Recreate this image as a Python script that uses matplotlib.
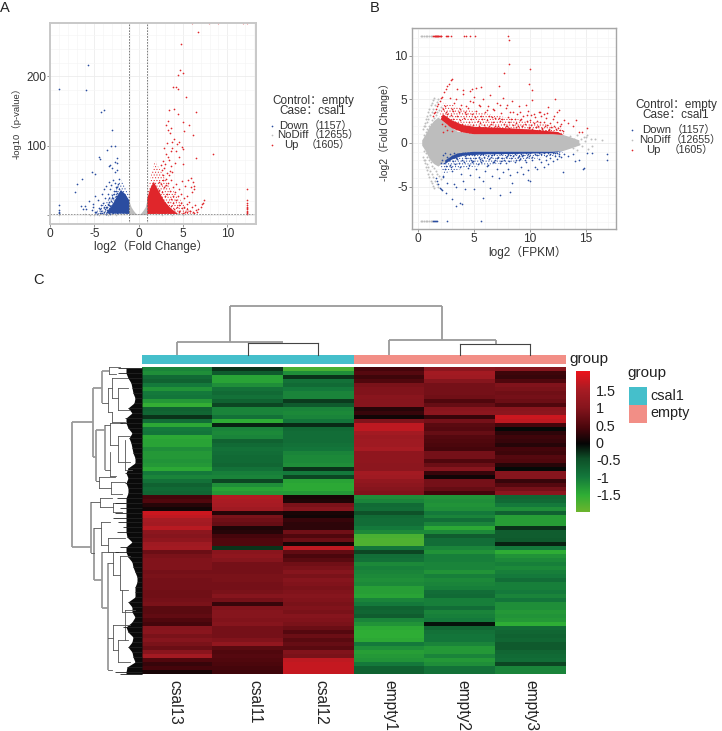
import matplotlib
matplotlib.use("Agg")
import matplotlib.pyplot as plt
import numpy as np
from matplotlib.colors import LinearSegmentedColormap

plt.rcParams['font.family'] = ['Liberation Sans', 'Noto Sans CJK SC', 'DejaVu Sans']
plt.rcParams['hatch.linewidth'] = 0.4

W, H = 722, 731

# ---- volcano (A) ----
a_down_x = [-5.68,-8.95,-5.98,-4.25,-3.95,-3.0,-3.16,-2.67,-3.53,-4.5,-4.36,-2.44,-2.63,-2.44,-3.2,-2.97,-3.4,-2.44,-2.67,-5.26,-4.96,-6.43,-7.0,-7.2,-8.95,-8.95,-8.95,-8.95,
            -6.5,-6.3,-6.1,-5.9,-5.6,-5.3,-5.1,-4.9,-4.8,-4.6,-4.5,-4.4,-4.3,-4.2,-4.1,-4,-3.9,-3.9,-3.8,-3.7,-3.7,-3.6,-3.5,-3.5,-3.4,-3.4,-3.3,-3.3,-3.2,-3.2,-3.1,-3.1,-3,-3,-2.9,-2.9,-2.8,-2.8,-2.7,-2.7,-2.6,-2.6,-2.5,-2.5,-2.4,-2.4,-2.3,-2.3,-2.3,-2.2,-2.2,-2.2,
            -4.7,-4.4,-4.1,-3.95,-3.8,-3.65,-3.55,-3.45,-3.35,-3.25,-3.15,-3.05,-2.95,-2.85,-2.75,-2.65,-2.55,-2.45,-2.35,-4.9,-5.2,-3.7,-3.3,-3.0,-2.8,-2.6,-2.4]
a_down_y = [217,182,180,148,151,122,100,99,94,84,81,82,77,75,72,68,70,65,61.5,62,59,52,44,33,15,5,3,7,
            13,9,13,9,20,7,16,28,5,22,10,3,14,6,30,18,38,4,25,11,42,7,31,16,47,3,24,9,37,13,20,43,5,29,16,50,10,35,22,46,7,28,15,40,4,32,19,44,11,37,26,52,
            2,8,3,12,8,2,11,5,15,2,8,11,3,24,7,15,10,3,8,4,11,2,19,24,30,34,41]
a_up_x = [6.73,4.77,4.66,5.0,4.4,3.83,4.17,4.47,5.34,3.95,3.46,6.47,4.44,3.35,4.96,5.7,3.7,5.1,6.1,8.42,6.43,5.98,7.97,8.98,11.73,12.25,
          3.1,3.3,3.55,3.8,4.0,4.3,4.6,4.9,5.05,3.6,3.2,2.9,3.1,3.45,3.75,4.25,4.6,2.75,3.0,3.3,3.7,4.05,2.6,2.9,3.2,3.55,2.5,2.75,3.05,3.4,3.8,5.05,5.55,
          2.3,2.55,2.8,3.05,3.3,3.6,3.9,4.2,4.5,4.85,5.2,5.95,6.1,6.25,2.35,2.6,2.85,3.15,3.5,3.85,4.15,4.45,4.8,5.1,5.4,5.85,6.05,6.2,7.1,7.35,
          2.4,2.7,3.0,3.3,3.6,3.9,4.2,4.5,4.8,5.1,5.4,5.7,6.0,6.3,6.7,7.0,7.25,2.5,2.8,3.1,3.4,3.7,4.0,4.3,4.6,4.9,5.2,5.5,5.8,6.1,6.5,2.6,3.0,3.4,3.8,4.2,4.6,5.0,5.4,5.8,6.2,6.6,
          12.25,12.25,12.25,12.25,12.25,12.25,12.25,12.25,12.25,12.25,12.25]
a_up_y = [264,247,209,205,202,185,184,182,170,153,151,148.5,146,136,134.6,130,125,121.6,115,88,82,277,277,277,277,277,
          130,122,118,105,110,102,105,98,95,92,104,96,88,80,96,92,84,78,73,83,70,75,65,68,60,64,72,58,52,57,62,74,50,
          48,45,50,43,46,50,40,44,38,49,42,53,48,38,36,33,40,30,35,28,33,27,31,24,28,40,33,42,16,22,
          25,22,27,19,23,17,21,15,18,12,16,19,11,14,9,12,18,14,12,15,9,13,8,11,6,10,5,8,6,4,7,5,8,4,6,3,5,2.5,4,6,3,5,
          37,22,18,15,12,10,8,6,5,3.5,2]
a_nd_x = [-9.0,-8.95,-6.0,-5.5,-5.0,-4.5,-4.0,-3.5,-3.0,-2.5,-2.0,-1.6,2.0,2.6,3.2,3.8,4.4,5.0]
a_nd_y = [1,0.6,0.8,0.5,0.7,0.4,0.9,0.6,1.0,0.7,1.1,0.8,1.0,0.6,0.9,0.5,0.8,0.6]
# outlines of the areas too dense to read point by point
a_gray_hx = [-1.06,-0.8,-0.55,-0.3,0,0.3,0.55,0.8,0.97,0.97,-1.06]
a_gray_hy = [20,11,6,2,0.2,2,6,11,20,0,0]
a_blue_hx = [-1.06,-1.06,-1.5,-2.0,-2.4,-3.0,-3.7,-1.06]
a_blue_hy = [1.5,21,30,36,28,14,2.5,1.5]
a_blue_ox = [-1.06,-1.9,-2.4,-2.9,-3.5,-4.3,-5.0,-1.06]
a_blue_oy = [30,50,45,32,22,12,1.5,1.5]
a_red_hx = [0.97,0.97,1.3,1.7,2.2,2.9,3.6,4.4,0.97]
a_red_hy = [1.5,24,38,48,36,20,10,1.5,1.5]
a_red_ox = [0.97,1.3,1.8,2.5,3.3,4.2,5.2,6.2,0.97]
a_red_oy = [30,52,78,64,44,30,14,1.5,1.5]

# ---- MA plot (B) ----
b_up_x = [8.06,8.15,4.3,8.15,10.0,7.64,9.88,10.2,7.25,5.6,3.5,4,4.6,5.2,4.8,
          1.3,1.4,1.5,1.6,1.7,1.8,1.9,2.0,2.1,2.3,2.5,2.6,2.7,2.9,3.0,
          1.3,1.4,1.45,1.5,1.55,1.6,1.65,1.7,1.75,1.8,1.85,1.9,2.0,2.05,2.45,2.55,2.65,2.9,4.1,4.65,5.1,
          2.2,2.4,2.6,2.8,3.0,3.2,3.4,3.6,3.8,4.0,4.2,4.4,4.6,4.8,5.0,5.2,5.4,5.6,5.8,6.0,6.2,6.4,6.6,6.8,7.0,7.2,7.4,7.6,7.8,8.0,8.2,8.4,8.6,8.8,9.0,9.2,9.4,9.6,9.8,10.0,10.2,10.4,10.6,10.8,11.0,11.2,11.4,11.6,11.8,12.0,12.2,12.4,12.6,12.8,13.0,13.4,13.8,14.1,14.4,14.6,15.1,
          2.3,2.5,2.7,2.9,3.1,3.3,3.5,3.7,3.9,4.1,4.3,4.5,4.7,4.9,5.1,5.3,5.5,5.7,5.9,6.1,6.3,6.5,6.7,6.9,7.1,7.3,7.5,7.7,7.9,8.1,8.3,8.5,8.7,8.9,9.1,9.3,9.5,9.7,9.9,10.1,10.3,10.5,10.7,10.9,11.1,11.3,11.5,11.7,11.9,12.1,12.3,12.5,12.7,12.9,10.1,11.2,12.4,12.7,
          2.1,2.4,2.7,3.0,3.3,3.6,3.9,4.2,4.5,4.8,5.1,5.4,5.7,6.0,6.3,6.6,6.9,7.2,7.5,7.8,8.1,8.4,8.7,9.0,9.3,9.6,9.9,10.2,10.5,10.8,11.1,11.4,11.7,12.0,
          2.2,2.6,3.0,3.4,3.8,4.2,4.6,5.0,5.4,5.8,6.2,6.6,7.0,7.4,7.8,8.2,8.6,9.0,9.4,9.8,10.2,10.6,11.0,11.4,11.8,
          2.5,3.1,3.7,4.3,4.9,5.5,6.1,6.7,7.3,7.9,8.5,9.1,9.7,10.3,10.9,11.5,12.1]
b_up_y = [12.2,11.75,12.2,9.0,8.5,8.05,6.75,6.07,6.5,6.45,6.2,6.1,6.0,6.3,6.2,
          3.1,3.4,3.6,3.9,4.2,4.5,4.8,5.1,5.3,5.8,6.2,6.5,6.8,7.2,7.3,
          12.2,12.2,12.2,12.2,12.2,12.2,12.2,12.2,12.2,12.2,12.2,12.2,12.2,12.2,12.2,12.2,12.2,12.2,12.2,12.2,12.2,
          3.9,4.2,3.3,5.2,3.9,4.6,5.0,3.5,4.4,5.6,3.6,4.0,4.8,3.3,5.3,3.7,4.4,3.1,5.0,3.5,4.2,5.5,3.0,3.8,4.6,2.9,3.4,5.2,4.0,3.0,3.6,4.8,2.8,3.3,4.2,2.7,3.1,4.4,3.7,2.6,4.9,3.0,2.5,3.5,3.1,2.4,2.9,4.1,2.3,2.7,5.0,2.4,3.8,2.2,2.6,2.3,2.0,2.6,1.2,1.2,1.7,
          2.7,3.0,2.5,3.2,2.8,2.4,3.1,2.6,2.2,2.9,3.3,2.4,2.7,2.1,3.0,2.5,2.3,2.8,2.1,2.6,3.1,2.2,2.4,2.9,2.0,2.5,2.7,2.2,1.9,2.4,2.8,2.1,2.3,1.9,2.6,2.0,2.2,2.5,1.8,2.1,2.3,1.8,2.0,2.4,1.7,1.9,2.1,1.6,1.8,2.0,1.6,1.7,1.5,1.4,3.2,3.3,3.6,1.9,
          2.2,2.0,2.1,1.9,1.8,2.1,1.9,1.7,2.0,1.8,1.6,1.9,1.7,1.8,2.0,1.6,1.9,1.7,1.6,1.9,1.7,1.5,1.8,1.6,1.9,1.5,1.7,1.6,1.8,1.5,1.6,1.4,1.5,1.3,
          1.3,1.5,1.4,1.6,1.4,1.5,1.3,1.4,1.6,1.3,1.5,1.4,1.3,1.5,1.4,1.3,1.5,1.4,1.3,1.5,1.3,1.4,1.3,1.4,1.2,
          3.6,3.7,3.9,4.2,4.7,4.2,3.8,3.9,4.4,4.3,3.5,3.6,3.2,3.3,3.6,3.4,3.1]
b_down_x = [1.3,1.4,1.5,1.6,1.7,2.6,5.6,
            1.6,1.7,1.8,1.9,2.0,2.1,2.2,
            2.0,2.2,2.4,2.6,2.8,3.0,3.2,3.4,3.6,3.8,4.0,4.2,4.4,4.6,4.8,5.0,5.2,5.4,5.6,5.8,6.0,6.2,6.4,6.6,6.8,7.0,7.2,7.4,7.6,7.8,8.0,8.2,8.4,8.6,8.8,9.0,9.2,9.4,9.6,9.8,10.0,10.2,10.4,10.6,10.8,11.0,11.2,11.4,11.6,11.8,12.0,12.2,12.4,12.6,12.8,13.0,13.4,13.8,14.0,14.4,14.7,15.1,15.5,16.9,16.9,
            2.1,2.3,2.5,2.7,2.9,3.1,3.3,3.5,3.7,3.9,4.1,4.3,4.5,4.7,4.9,5.1,5.3,5.5,5.7,5.9,6.1,6.3,6.5,6.7,6.9,7.1,7.3,7.5,7.7,7.9,8.1,8.3,8.5,8.7,8.9,9.1,9.3,9.5,9.7,9.9,
            2.2,2.6,3.0,3.4,3.8,4.2,4.6,5.0,5.4,5.8,6.2,6.6,7.0,7.4,7.8,8.2,8.6,9.0,9.4,9.8,10.2,10.6,11.0,11.4,11.8,12.2,12.6,
            2.4,2.8,3.2,3.6,4.0,4.4,4.8,5.2,5.6,6.0,6.4,6.8,7.2,7.6,8.0,8.4,8.8,9.2,9.6,10.0,10.4,10.8,11.2,11.6,12.0,12.4,
            3.7,3.95,3.4,3.0,2.5,5.8,7.3,8.2,9.8,12.95,14.8]
b_down_y = [-8.9,-8.9,-8.9,-8.9,-8.9,-8.9,-8.9,
            -4.0,-4.4,-4.7,-5.1,-5.3,-5.4,-3.9,
            -2.3,-3.8,-3.0,-4.6,-2.5,-3.2,-4.7,-5.0,-2.3,-3.6,-4.3,-5.3,-2.9,-3.7,-2.2,-5.3,-3.0,-3.9,-2.2,-4.4,-3.2,-2.5,-5.1,-3.8,-2.2,-3.0,-4.0,-2.1,-3.3,-2.3,-3.0,-3.7,-4.6,-2.2,-3.3,-2.0,-2.7,-3.6,-2.2,-3.1,-4.3,-2.0,-2.7,-3.0,-1.8,-2.2,-2.8,-1.9,-2.4,-1.7,-2.1,-1.5,-1.8,-1.5,-1.6,-1.3,-1.5,-1.3,-2.1,-2.0,-3.0,-1.2,-1.2,-1.3,-2.0,
            -2.0,-2.3,-2.6,-1.9,-2.8,-2.1,-2.4,-1.8,-2.7,-2.0,-2.2,-1.7,-2.5,-1.9,-2.1,-1.7,-2.4,-1.8,-2.0,-1.6,-2.6,-1.8,-1.6,-2.2,-1.9,-1.6,-2.3,-1.7,-1.9,-1.5,-2.1,-1.7,-1.5,-2.0,-1.6,-1.8,-1.5,-1.9,-1.6,-1.5,
            -1.4,-1.6,-1.5,-1.7,-1.4,-1.5,-1.7,-1.4,-1.6,-1.3,-1.5,-1.4,-1.7,-1.3,-1.6,-1.4,-1.3,-1.5,-1.4,-1.3,-1.6,-1.4,-1.3,-1.5,-1.3,-1.2,-1.3,
            -1.2,-1.3,-1.2,-1.3,-1.2,-1.3,-1.2,-1.2,-1.3,-1.2,-1.2,-1.3,-1.2,-1.2,-1.3,-1.2,-1.2,-1.3,-1.2,-1.2,-1.3,-1.2,-1.2,-1.2,-1.2,-1.1,
            -6.9,-7.0,-7.2,-6.4,-5.7,-6.3,-5.9,-5.6,-4.2,-3.3,-2.9]
b_nd_x = [0.2,0.35,0.5,0.65,0.8,0.95,1.1,1.25,0.2,0.35,0.5,0.65,0.8,0.95,1.1,1.25,
          0.45,0.6,0.75,0.9,1.05,1.2,1.35,1.5,1.65,1.8,0.5,0.65,0.8,0.95,1.1,1.25,1.4,1.55,1.7,1.85,2.0,
          0.45,0.6,0.75,0.9,1.05,1.2,1.35,1.5,1.65,1.8,0.5,0.65,0.8,0.95,1.1,1.25,1.4,1.55,1.7,1.85,2.0,
          0.5,0.6,0.7,0.8,0.9,1.0,1.1,1.2,1.3,1.4,0.5,0.6,0.7,0.8,0.9,1.0,1.1,1.2,1.3,1.4,
          13.6,13.9,14.2,14.5,14.8,15.1,15.4,15.8,16.4,13.8,14.2,14.6,15.2,14.9,15.5,13.7,14.4,15.0]
b_nd_y = [12.2,12.2,12.2,12.2,12.2,12.2,12.2,12.2,-8.9,-8.9,-8.9,-8.9,-8.9,-8.9,-8.9,-8.9,
          1.6,2.0,2.4,2.8,3.2,3.6,3.9,4.3,4.7,5.0,0.9,1.2,1.6,1.9,2.2,2.6,2.9,3.2,3.5,3.8,4.1,
          -1.6,-2.0,-2.4,-2.8,-3.2,-3.6,-3.9,-4.3,-4.7,-5.0,-0.9,-1.2,-1.6,-1.9,-2.2,-2.6,-2.9,-3.2,-3.5,-3.8,-4.1,
          1.9,2.3,2.7,3.1,3.5,3.9,4.3,4.6,4.9,5.2,-1.9,-2.3,-2.7,-3.1,-3.5,-3.9,-4.3,-4.6,-4.9,-5.2,
          0.8,0.5,0.9,0.4,0.7,0.9,0.5,0.4,0.3,-0.6,-0.8,-0.4,-0.7,0.2,-0.3,0.1,-0.1,0.7]
b_gray_hx = [0.35,0.7,1.0,1.4,1.8,2.5,3.5,5,12,13,13.5,14.4,14.4,13.5,13,12,5,3.5,2.5,1.8,1.4,1.0,0.7,0.35]
b_gray_hy = [0.3,1.0,1.8,2.5,2.9,2.2,1.3,1.0,1.0,0.9,0.7,0.3,-0.3,-0.7,-0.9,-1.0,-1.0,-1.3,-2.0,-2.7,-2.4,-1.8,-1.0,-0.3]
b_red_hx = [2.0,3,4,5,12,13,12.5,10,7,5,4,3,2.2]
b_red_hy = [2.7,1.7,1.2,1.0,1.0,0.9,1.25,1.55,1.75,1.85,2.05,2.6,3.3]
b_red_ox = [1.9,3,4,5,12,13,13,11,8,5.5,4,3,2.2]
b_red_oy = [3.0,1.7,1.2,1.0,1.0,1.0,1.6,2.3,2.9,3.5,3.9,4.4,4.6]
b_blue_hx = [2.4,3.0,3.5,5,12,13,12,9,6,4,3,2.4]
b_blue_hy = [-2.0,-1.5,-1.2,-1.0,-1.0,-0.9,-1.15,-1.25,-1.3,-1.45,-1.9,-2.4]
b_blue_ox = [2.0,3.0,4,5,12,13,12.5,10,7,4.5,3,2.2]
b_blue_oy = [-2.6,-1.5,-1.1,-1.0,-1.0,-1.0,-1.4,-1.9,-2.4,-2.8,-3.2,-3.6]

legend_names = ["Down", "NoDiff", "Up"]
legend_counts = ["（1157）", "（12655）", "（1605）"]

# ---- heatmap ----
samples = ["csal13", "csal11", "csal12", "empty1", "empty2", "empty3"]
csal13 = [-1.1,-1.2,-0.8,-0.7,-1.0,-1.25,-1.0,-0.95,-1.3,-1.55,-0.7,-0.75,-0.3,-0.85,-1.45,-1.0,-0.95,-1.45,-1.4,-1.4,
          -1.2,-1.3,-1.3,-1.25,-1.3,-1.45,-1.0,-1.1,-0.9,-0.7,-0.8,-0.75,0.4,0.5,0.2,0.05,1.8,1.7,1.5,1.45,
          1.65,1.1,1.0,1.15,1.4,1.45,0.75,0.9,0.95,0.95,0.95,0.85,0.9,0.85,0.85,0.85,0.8,0.8,0.85,0.9,
          0.6,0.6,0.65,0.5,0.4,1.0,1.05,0.9,1.0,0.9,0.75,1.05,1.45,0.5,0.3,0.4,0.1]
csal11 = [-0.3,-0.6,-1.4,-1.4,-1.2,-0.9,-0.8,-0.9,-0.7,-0.4,-1.1,-1.1,-0.9,-1.5,-0.2,-1.1,-1.15,-1.1,-0.7,-0.8,
          -0.9,-0.85,-0.8,-0.8,-0.75,-0.9,-1.05,-1.1,-0.4,-1.2,-1.4,-1.3,1.6,1.55,1.5,1.4,0.2,0.9,0.8,0.7,
          0.15,0.2,0.4,0.5,0.5,-0.3,1.05,1.15,1.0,0.85,0.85,0.85,0.9,0.9,0.85,0.85,0.9,1.0,0.85,0.3,
          0.95,1.0,1.0,0.95,1.0,0.85,0.85,0.85,0.95,1.2,0.6,0.5,0.55,0.5,0.45,0.4,0.35]
csal12 = [-1.7,-1.2,-0.3,-0.9,-0.8,-1.0,-1.1,-1.1,-0.35,-0.6,-1.1,-1.15,-1.1,-0.95,-0.25,-0.8,-0.85,-0.85,-0.85,-0.9,
          -0.95,-1.1,-1.15,-1.15,-1.2,-0.3,-1.0,-0.4,-1.4,-1.45,-1.45,-1.3,0.1,0.15,0.9,1.0,0.1,0.05,0.3,0.25,
          0.25,0.8,0.5,0.75,0.1,1.7,0.65,0.45,0.6,0.8,0.9,1.0,0.9,1.0,0.95,0.9,0.95,1.0,0.95,0.9,
          0.95,0.9,1.0,0.95,0.9,0.75,0.55,0.75,0.6,0.7,0.6,0.95,0.9,1.7,1.75,1.75,1.75]
empty1 = [0.4,0.55,0.35,0.5,0.9,0.95,0.95,1.05,1.0,1.0,0.2,0.3,0.05,0.95,1.7,1.7,1.45,1.35,1.4,1.4,
          1.5,1.15,1.15,1.15,1.1,1.1,1.45,1.4,1.2,1.1,1.0,0.95,-1.2,-1.1,-0.8,-0.85,-0.5,-0.8,-0.85,-0.85,
          -1.0,-1.15,-1.7,-1.75,-1.75,-0.95,-0.4,-0.85,-0.9,-1.15,-1.05,-1.1,-1.15,-1.2,-1.15,-1.35,-1.35,-1.4,-1.1,-1.0,
          -0.7,-0.75,-0.65,-1.1,-1.25,-1.45,-1.5,-1.5,-1.45,-1.0,-1.2,-1.35,-1.3,-1.25,-1.0,-0.7,-0.7]
empty2 = [1.1,1.45,1.4,1.0,0.85,0.85,0.85,0.8,0.5,0.7,1.05,1.1,0.3,0.85,0.6,0.55,0.7,0.55,0.5,0.45,
          0.4,0.85,0.85,0.5,0.75,1.0,0.3,0.05,0.85,0.85,0.7,0.4,-1.25,-1.2,-1.25,-1.2,-1.0,-1.1,-0.85,-1.1,
          -1.45,-1.15,-0.65,-0.85,-0.85,-1.1,-1.25,-1.05,-1.05,-1.1,-1.1,-1.25,-1.05,-1.15,-1.1,-1.05,-0.85,-0.8,-1.05,-1.05,
          -0.85,-1.1,-1.05,-1.0,-0.1,-0.75,-0.9,-0.95,-0.95,-1.1,-1.3,-1.3,-1.1,-1.3,-1.2,-0.9,-0.9]
empty3 = [1.0,0.35,0.3,0.5,0.95,0.9,0.8,0.85,0.75,0.5,1.05,1.1,1.8,1.7,0.4,-0.05,0.25,0.35,0.3,0.2,
          0.4,0.35,0.55,0.5,0.2,-0.05,1.0,1.0,0.3,0.55,0.85,1.1,-0.75,-0.8,-1.0,-1.2,-0.7,-1.35,-1.35,-1.35,
          -0.3,-0.65,-0.65,-0.6,-0.2,-1.0,-1.5,-1.25,-1.15,-1.05,-1.15,-1.05,-1.0,-0.85,-1.05,-1.05,-1.0,-1.1,-0.95,-1.2,
          -1.2,-1.3,-1.25,-1.3,-1.5,-0.8,-0.75,-0.7,-0.75,-0.6,-0.6,-0.75,-0.8,-0.85,-0.4,-1.1,-1.1]
cbar_ticks = [1.5, 1, 0.5, 0, -0.5, -1, -1.5]
cbar_labels = ["1.5", "1", "0.5", "0", "-0.5", "-1", "-1.5"]
group_names = ["csal1", "empty"]
group_colors = ["#45bfcb", "#f28e86"]

# dendrograms, picture coordinates
col_tree_thick = [(230,305.7,442,305.7),(230,305.7,230,341.7),(442,305.7,442,340),(177.3,341.7,283,341.7),(177.3,341.7,177.3,355),
                  (389,340,495.7,340),(389,340,389,355),(495.7,340,495.7,344)]
col_tree_thin = [(248,342.5,318,342.5),(248,342.5,248,355),(318,342.5,318,355),(460,344.3,530.3,344.3),(460,344.3,460,355),(530.3,344.3,530.3,355)]
row_tree_thick = [(72.3,421.7,72.3,546.7),(72.3,421.7,93.3,421.7),(72.3,546.7,91,546.7),(93.3,388,93.3,456.7),(93.3,388,101.7,388),
                  (101.7,370.7,101.7,403),(101.7,370.7,109,370.7),(96,430,96,480.7),(93.3,456.7,96,456.7),(96,430,105,430),
                  (105,425,105,470),(91,501.7,91,553),(94.3,528,94.3,580),(101.7,551.7,101.7,608.3),(94.3,580,101.7,580),
                  (107.7,563.3,107.7,670),(101.7,608.3,107.7,608.3)]
row_tree_thin = [(109,367,109,374),(109,367,120,367),(109,374,116,374),(101.7,403,108,403),(108,388,108,412),(108,388,112,388),(108,412,112,412),
                 (112,378,112,398),(112,378,128,378),(112,398,118,398),(118,388,118,410),(118,388,128,388),(118,410,130,410),(112,412,112,422),(112,422,125,422),
                 (105,425,110,425),(110,423,110,445),(110,423,122,423),(110,445,118,445),(118,436,118,462),(118,436,130,436),(118,462,130,462),
                 (105,470,110,470),(110,452,110,476),(110,476,116,476),(125,440,125,470),(125,470,132,470),(99.3,476.7,99.3,488),(96,480.7,99.3,480.7),
                 (99.3,476.7,115,476.7),(99.3,488,111,488),(111,482,111,494),(111,482,125,482),(111,494,122,494),
                 (91,501.7,100,501.7),(100,498,100,507),(100,498,112,498),(100,507,113,507),(113,503,113,512),(113,503,125,503),(113,512,122,512),
                 (91,553,94.3,553),(94.3,528,101,528),(101,522,101,545),(101,522,110,522),(101,545,108,545),(108,538,108,552),(108,538,125,538),(108,552,118,552),
                 (113,551.7,113,575),(101.7,551.7,113,551.7),(113,575,120,575),(120,556,120,590),(120,556,130,556),(120,590,128,590),(107.7,563.3,113,563.3),
                 (107.7,670,112,670),(107.7,638,113,638),(113,625,113,650),(113,625,130,625),(113,650,118,650),(118,640,118,662),(118,640,128,640),(118,662,130,662),
                 (125,610,125,640),(125,610,135,610),(122,590,122,612),(122,612,132,612)]
mass_y = [368,373,378,383,388,393,398,403,408,413,418,423,428,433,438,443,448,453,458,463,468,473,478,483,488,493,498,503,508,513,518,
          522,527,532,537,542,547,552,557,562,567,572,577,582,587,592,597,602,607,612,617,622,627,632,637,642,647,652,657,662,667,672,674]
mass_x = [118,118,128,131,132,133,135,134,128,132,125,120,128,132,129,131,132,133,135,135,128,125,128,125,128,128,117,115,120,115,113,
          118,123,117,127,132,120,115,128,132,133,135,137,137,135,135,135,128,132,132,135,132,123,128,133,132,128,132,133,135,127,115,120]

mycmap = LinearSegmentedColormap.from_list("heat", [
    (0.0, "#6cb52e"), (0.12, "#2fae35"), (0.25, "#14783c"), (0.38, "#0e4f28"), (0.485, "#050505"),
    (0.6, "#4a060c"), (0.74, "#86151d"), (0.87, "#a81c24"), (1.0, "#ec141c")])

fig = plt.figure(figsize=(W / 100, H / 100), dpi=100, facecolor="w")


def box(l, t, r, b):
    return fig.add_axes([l / W, 1 - b / H, (r - l) / W, (b - t) / H])


def scatter_style(ax, spine_col, spine_w):
    for s in ax.spines.values():
        s.set_color(spine_col)
        s.set_linewidth(spine_w)
    ax.minorticks_on()
    ax.tick_params(axis="both", which="minor", length=0)
    ax.tick_params(axis="both", which="major", length=2, width=0.6, color="#888888", labelcolor="#333333", pad=1, labelsize=8.6)
    ax.grid(True, which="major", color="#ececec", lw=0.6)
    ax.grid(True, which="minor", color="#f5f5f5", lw=0.5)
    ax.set_axisbelow(True)


blue, red, gray = "#2b4da0", "#e0262b", "#bdbdbd"
dots = "......"

# A
axA = box(50, 23, 255.7, 224)
scatter_style(axA, "#c8c8c8", 1.4)
axA.fill(a_gray_hx, a_gray_hy, color=gray, lw=0)
axA.fill(a_blue_ox, a_blue_oy, facecolor="none", edgecolor=blue, hatch=dots, lw=0)
axA.fill(a_red_ox, a_red_oy, facecolor="none", edgecolor=red, hatch=dots, lw=0)
axA.fill(a_blue_hx, a_blue_hy, color=blue, lw=0)
axA.fill(a_red_hx, a_red_hy, color=red, lw=0)
axA.scatter(a_nd_x, a_nd_y, s=1.3, color=gray, lw=0)
axA.scatter(a_down_x, a_down_y, s=1.5, color=blue, lw=0)
axA.scatter(a_up_x, a_up_y, s=1.5, color=red, lw=0)
axA.axvline(-1.06, color="#666666", lw=0.6, ls=(0, (2, 1.5)))
axA.axvline(0.97, color="#666666", lw=0.6, ls=(0, (2, 1.5)))
axA.axhline(1.3, color="#888888", lw=0.6, ls=(0, (2, 1.5)))
axA.set_xlim(-10, 13.2)
axA.set_ylim(-13, 277)
axA.set_xticks([-10, -5, 0, 5, 10])
axA.set_xticklabels(["0", "-5", "0", "5", "10"])
axA.set_yticks([0, 100, 200])
axA.set_yticklabels(["", "100", "200"])

# B
axB = box(411.7, 27.7, 616.3, 229)
scatter_style(axB, "#a6a6a6", 1.0)
axB.fill(b_gray_hx, b_gray_hy, color=gray, lw=0)
axB.fill(b_red_ox, b_red_oy, facecolor="none", edgecolor=red, hatch=dots, lw=0)
axB.fill(b_blue_ox, b_blue_oy, facecolor="none", edgecolor=blue, hatch=dots, lw=0)
axB.fill(b_red_hx, b_red_hy, color=red, lw=0)
axB.fill(b_blue_hx, b_blue_hy, color=blue, lw=0)
axB.scatter(b_nd_x, b_nd_y, s=2, color=gray, lw=0)
axB.scatter(b_down_x, b_down_y, s=1.5, color=blue, lw=0)
axB.scatter(b_up_x, b_up_y, s=1.5, color=red, lw=0)
axB.set_xlim(-0.59, 17.7)
axB.set_ylim(-9.85, 13.2)
axB.set_xticks([0, 5, 10, 15])
axB.set_yticks([-5, 0, 5, 10])
axB.set_yticklabels(["-5", "0", "5", "10"])

# C
heat = np.array([csal13, csal11, csal12, empty1, empty2, empty3]).T
axC = box(142, 367, 565.7, 674)
axC.imshow(heat, aspect="auto", cmap=mycmap, vmin=-2, vmax=2.06, interpolation="nearest")
axC.axis("off")

cax = box(576, 371, 589, 512)
cax.imshow(np.linspace(2.06, -2, 256).reshape(-1, 1), aspect="auto", cmap=mycmap, vmin=-2, vmax=2.06, extent=[0, 1, -2, 2.06])
for s in cax.spines.values():
    s.set_visible(False)
cax.set_xticks([])
cax.yaxis.tick_right()
cax.set_yticks(cbar_ticks)
cax.set_yticklabels(cbar_labels, fontsize=10.4, color="#222222")
cax.tick_params(axis="y", length=0, pad=5)

# overlay in picture coordinates
pix = fig.add_axes([0, 0, 1, 1], facecolor="none")
pix.set_xlim(0, W)
pix.set_ylim(H, 0)
pix.axis("off")

for seg in col_tree_thick + row_tree_thick:
    pix.plot(seg[0::2], seg[1::2], color="#9a9a9a", lw=1.3, solid_capstyle="butt")
for seg in col_tree_thin:
    pix.plot(seg[0::2], seg[1::2], color="#444444", lw=0.8)
for seg in row_tree_thin:
    pix.plot(seg[0::2], seg[1::2], color="#555555", lw=0.6)
pix.fill_betweenx(mass_y, np.maximum(mass_x, 126), 142, color="#0a0a0a", lw=0)
pix.hlines(mass_y, mass_x, 142, color="#222222", lw=0.6)

pix.add_patch(plt.Rectangle((142, 355), 211.5, 9, color=group_colors[0], lw=0))
pix.add_patch(plt.Rectangle((353.5, 355), 212.2, 9, color=group_colors[1], lw=0))
pix.text(569, 359, "group", fontsize=11, va="center", color="#222222")
pix.text(627.7, 373, "group", fontsize=11, va="center", color="#222222")
pix.add_patch(plt.Rectangle((628.7, 386.7), 18.3, 18.3, color=group_colors[0], lw=0))
pix.add_patch(plt.Rectangle((628.7, 405), 18.3, 18.3, color=group_colors[1], lw=0))
pix.text(650, 396, group_names[0], fontsize=10.4, va="center", color="#222222")
pix.text(650, 413.5, group_names[1], fontsize=10.4, va="center", color="#222222")

label_x = [175, 255, 320.7, 390, 462.7, 530.7]
for xp, name in zip(label_x, samples):
    pix.text(xp, 680, name, rotation=270, fontsize=11.2, ha="center", va="top", color="#222222")

pix.text(0, 12, "A", fontsize=10.5, color="#222222")
pix.text(370, 12, "B", fontsize=10.5, color="#222222")
pix.text(33, 284, "C", fontsize=10.5, color="#222222")

txt = "#333333"
pix.text(150.7, 246.5, "log2（Fold Change）", fontsize=8.6, ha="center", va="center", color=txt)
pix.text(16.7, 121, "-log10（p-value）", fontsize=6.8, rotation=90, ha="center", va="center", color=txt)
pix.text(527.7, 252, "log2（FPKM）", fontsize=8.5, ha="center", va="center", color=txt)
pix.text(385, 129.5, "-log2（Fold Change）", fontsize=7.5, rotation=90, ha="center", va="center", color=txt)

# legends of A and B
leg_cols = [blue, gray, red]
leg_a = [106, (271.7, 279.3, 276.7, 284), (125.7, 135.3, 145.3), (309, 309, 306), 313]
leg_b = [110, (631.7, 641.7, 638.7, 646), (130.3, 139.7, 150.3), (671.5, 670.5, 669), 676]
for (yc, xs, rows, cntx, cx) in [leg_a, leg_b]:
    pix.text(cx, yc, "Control：empty\nCase：csal1", fontsize=8.5, ha="center", va="center", color=txt, linespacing=0.72, multialignment="center")
    for i in range(3):
        pix.scatter([xs[0]], [rows[i]], s=1.5, color=leg_cols[i], lw=0)
        pix.text(xs[i + 1], rows[i], legend_names[i], fontsize=8.2, va="center", color=txt)
        pix.text(cntx[i], rows[i], legend_counts[i], fontsize=7.7, va="center", color=txt)

fig.savefig("out.png", dpi=100)
